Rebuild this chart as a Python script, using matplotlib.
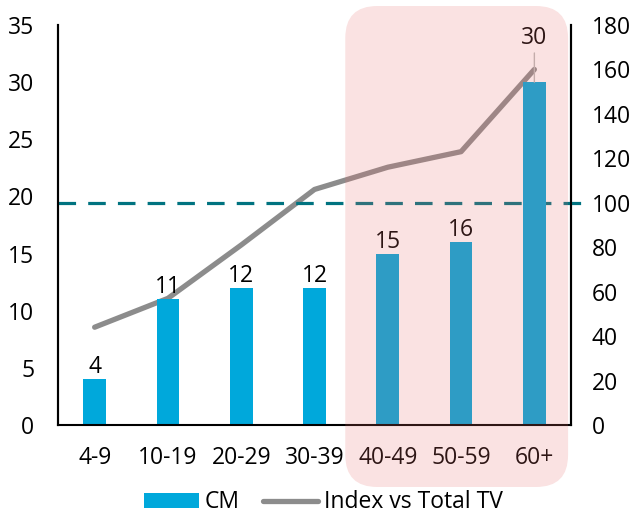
import matplotlib.pyplot as plt
from matplotlib.patches import FancyBboxPatch, Patch
from matplotlib.lines import Line2D

plt.rcParams['font.family'] = ['Open Sans', 'DejaVu Sans']

ages = ["4-9", "10-19", "20-29", "30-39", "40-49", "50-59", "60+"]
cm = [4, 11, 12, 12, 15, 16, 30]
index_tv = [44, 57, 81, 106, 116, 123, 160]
benchmark = 100

blue = "#00A8DB"
grey = "#8C8C8C"
teal = "#007380"
fs = 16.5

fig = plt.figure(figsize=(6.34, 5.17), dpi=100)
ax = fig.add_axes([58 / 634, 1 - 425 / 517, 513 / 634, 400 / 517])
ax2 = ax.twinx()

x = list(range(len(ages)))
ax.bar(x, cm, width=0.31, color=blue, zorder=2)
for i, v in enumerate(cm):
    if i == len(cm) - 1:
        ax.annotate(str(v), xy=(i, v), xytext=(0, 23), textcoords="offset points",
                    ha="center", va="bottom", fontsize=fs,
                    arrowprops=dict(arrowstyle="-", color="#BBBBBB", lw=1,
                                    shrinkA=0, shrinkB=0))
    else:
        ax.annotate(str(v), xy=(i, v), xytext=(0, 0), textcoords="offset points",
                    ha="center", va="bottom", fontsize=fs)

ax.set_xlim(-0.5, len(ages) - 0.5)
ax.set_ylim(0, 35)
ax.set_yticks(range(0, 36, 5))
ax.set_xticks(x)
ax.set_xticklabels(ages)
ax.tick_params(axis="both", length=0, labelsize=fs)
ax.tick_params(axis="y", pad=17)
ax.tick_params(axis="x", pad=15)

ax2.plot(x, index_tv, color=grey, lw=3.8, solid_capstyle="round", zorder=3)
ax2.set_ylim(0, 180)
ax2.set_yticks(range(0, 181, 20))
ax2.tick_params(axis="y", length=0, labelsize=fs, pad=15)
ax2.axhline(benchmark, xmin=0, xmax=1.04, color=teal, lw=2.3,
            dashes=(5.5, 3.8), clip_on=False, zorder=4)

for a in (ax, ax2):
    a.spines["top"].set_visible(False)
    for s in ("left", "right", "bottom"):
        a.spines[s].set_linewidth(1.5)
        a.spines[s].set_color("black")
ax2.spines["bottom"].set_visible(False)
ax.set_zorder(ax2.get_zorder() + 1)
ax.patch.set_visible(False)

# highlighted age groups 40+, drawn over everything in pixel space
fig.canvas.draw()
x0 = ax.transData.transform((3.42, 0))[0]
x1 = ax.transData.transform((6.46, 0))[0]
hl = FancyBboxPatch((x0, 517 - 487), x1 - x0, 487 - 6,
                    boxstyle="round,pad=0,rounding_size=32",
                    transform=None, facecolor="#E8706E", alpha=0.2,
                    edgecolor="none", zorder=10)
fig.patches.append(hl)
hl.set_figure(fig)

handles = [Patch(facecolor=blue, edgecolor="none"),
           Line2D([0], [0], color=grey, lw=3.8, solid_capstyle="round")]
fig.legend(handles, ["CM", "Index vs Total TV"], loc="lower center",
           bbox_to_anchor=(0.51, -0.035), ncol=2, frameon=False, fontsize=fs,
           handlelength=2.4, handleheight=0.65, columnspacing=1.0,
           handletextpad=0.25)

fig.savefig("out.png", dpi=100)
